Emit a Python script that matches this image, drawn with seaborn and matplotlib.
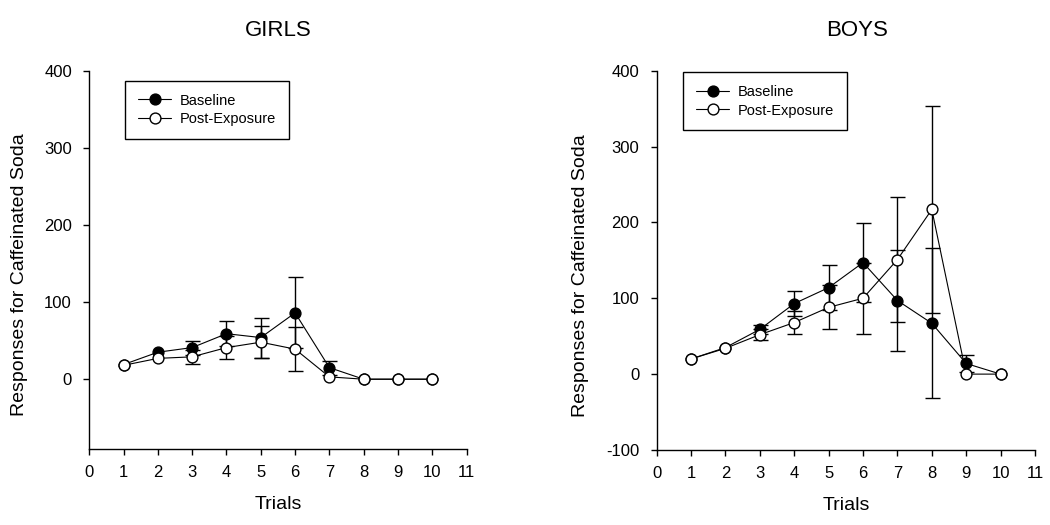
import numpy as np
import pandas as pd
import matplotlib
matplotlib.use("Agg")
import matplotlib.pyplot as plt
import seaborn as sns

# ---- data ----
trials = [1, 2, 3, 4, 5, 6, 7, 8, 9, 10]

girls_baseline = [19, 35, 41, 59, 54, 86, 15, 0, 0, 0]
girls_baseline_err = [0, 0, 9, 16, 26, 46, 9, 0, 0, 0]
girls_post = [18, 27, 29, 41, 48, 39, 3, 0, 0, 0]
girls_post_err = [0, 0, 9, 15, 21, 29, 0, 0, 0, 0]

boys_baseline = [20, 35, 59, 93, 114, 147, 97, 67, 14, 0]
boys_baseline_err = [0, 0, 6, 16, 30, 52, 67, 99, 11, 0]
boys_post = [20, 34, 52, 68, 88, 100, 151, 217, 0, 0]
boys_post_err = [0, 0, 7, 15, 29, 47, 82, 137, 0, 0]

x_ticks = list(range(0, 12))
girls_y_ticks = [0, 100, 200, 300, 400]
boys_y_ticks = [-100, 0, 100, 200, 300, 400]

series_labels = ["Baseline", "Post-Exposure"]
panel_titles = ["GIRLS", "BOYS"]
x_label = "Trials"
y_label = "Responses for Caffeinated Soda"

sns.set_style("ticks")
plt.rcParams["font.family"] = ["Liberation Sans", "DejaVu Sans"]
plt.rcParams["axes.unicode_minus"] = False
plt.rcParams["text.color"] = "black"
plt.rcParams["axes.labelcolor"] = "black"
plt.rcParams["xtick.color"] = "black"
plt.rcParams["ytick.color"] = "black"

fig = plt.figure(figsize=(10.5, 5.25), dpi=100)
ax_g = fig.add_axes([0.085, 0.1455, 0.3594, 0.7198])
ax_b = fig.add_axes([0.6254, 0.1429, 0.3603, 0.7225])


def draw_panel(ax, base, base_err, post, post_err, title, ylim, yticks,
               leg_anchor, ylabel_x, title_x):
    df = pd.DataFrame({
        "trial": trials * 2,
        "value": list(base) + list(post),
        "err": list(base_err) + list(post_err),
        "series": [series_labels[0]] * len(trials) + [series_labels[1]] * len(trials),
    })
    faces = {series_labels[0]: "black", series_labels[1]: "white"}
    for i, lab in enumerate(series_labels):
        sub = df[df["series"] == lab]
        has = sub["err"] > 0
        ax.errorbar(sub["trial"][has], sub["value"][has], yerr=sub["err"][has],
                    fmt="none", ecolor="black", elinewidth=1.0, capsize=5.4,
                    capthick=1.0, zorder=2 + 2 * i)
        sns.lineplot(data=sub, x="trial", y="value", ax=ax, color="black",
                     linewidth=0.8, marker="o", markersize=7.8,
                     markerfacecolor=faces[lab], markeredgecolor="black",
                     markeredgewidth=1.0, label=lab, zorder=3 + 2 * i)

    ax.set_xlim(0, 11)
    ax.set_ylim(*ylim)
    ax.set_xticks(x_ticks)
    ax.set_yticks(yticks)
    ax.tick_params(axis="both", direction="out", length=4.5, width=1.0,
                   labelsize=12, colors="black")
    ax.tick_params(axis="x", pad=7)
    ax.tick_params(axis="y", pad=8)
    for s in ["top", "right"]:
        ax.spines[s].set_visible(False)
    for s in ["left", "bottom"]:
        ax.spines[s].set_linewidth(1.0)
        ax.spines[s].set_color("black")

    ax.set_xlabel(x_label, fontsize=14, color="black")
    ax.set_ylabel(y_label, fontsize=14, color="black")
    ax.xaxis.set_label_coords(0.5, -0.125)
    ax.yaxis.set_label_coords(ylabel_x, 0.46)
    ax.set_title(title, fontsize=16, pad=25, x=title_x, color="black")

    leg = ax.legend(loc="upper left", bbox_to_anchor=leg_anchor,
                    fontsize=10.5, frameon=True, fancybox=False,
                    edgecolor="black", framealpha=1, handlelength=2.3,
                    handletextpad=0.6, borderpad=0.88, labelspacing=0.33,
                    borderaxespad=0)
    leg.get_frame().set_linewidth(1.0)


draw_panel(ax_g, girls_baseline, girls_baseline_err, girls_post, girls_post_err,
           panel_titles[0], (-90, 400), girls_y_ticks, (0.0946, 0.9735), -0.162, 0.5)
draw_panel(ax_b, boys_baseline, boys_baseline_err, boys_post, boys_post_err,
           panel_titles[1], (-100, 400), boys_y_ticks, (0.0695, 0.9966), -0.179, 0.53)

fig.savefig("out.png", dpi=100)
